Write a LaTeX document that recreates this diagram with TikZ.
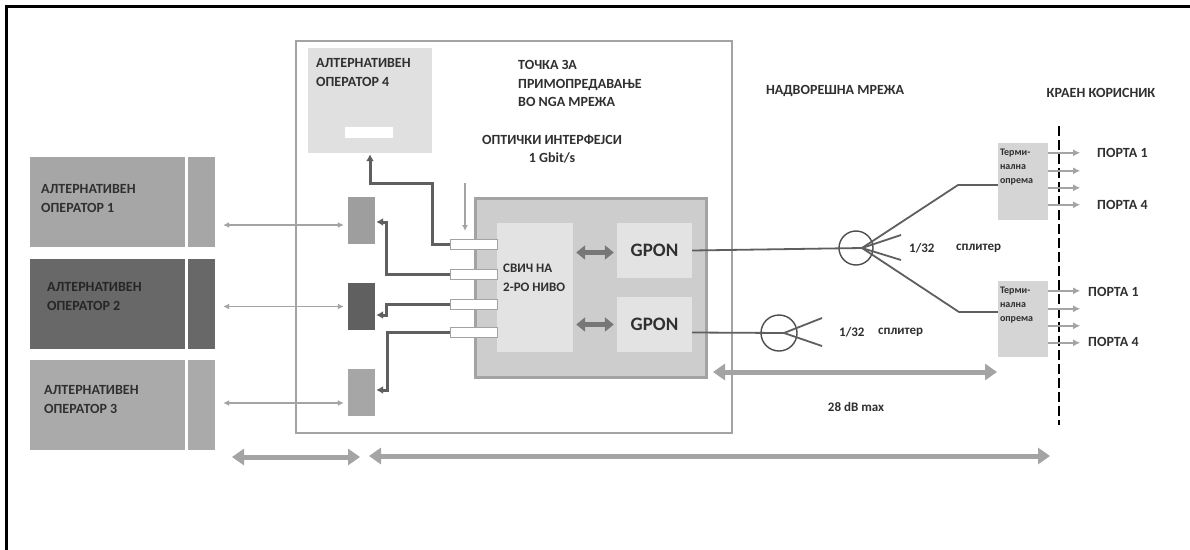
\documentclass[tikz,border=0pt]{standalone}
\usepackage{fontspec}
\setmainfont{Carlito}
\usetikzlibrary{arrows.meta,calc}

\definecolor{opgray}{HTML}{A6A6A6}
\definecolor{opdark}{HTML}{686868}
\definecolor{boxline}{HTML}{A3A3A3}
\definecolor{lightfill}{HTML}{E0E0E0}
\definecolor{swfill}{HTML}{CDCDCD}
\definecolor{linkdark}{HTML}{5F5F5F}
\definecolor{arrgray}{HTML}{A4A4A4}
\definecolor{txtgray}{HTML}{303030}

\tikzset{
  box/.style={rectangle, inner sep=0pt},
  opbox/.style={box, minimum width=155pt, minimum height=90pt},
  opstrip/.style={box, minimum width=27pt, minimum height=90pt},
  conbox/.style={box, minimum width=27pt, minimum height=47pt},
  portbox/.style={box, fill=white, draw=boxline, line width=1pt, minimum width=47pt, minimum height=10pt},
  termbox/.style={box, fill=lightfill!95!black, minimum width=50pt, minimum height=77pt},
  lbl/.style={inner sep=0pt, text=txtgray, align=left, font=\fontsize{14}{19}\selectfont\bfseries},
  small/.style={inner sep=0pt, text=txtgray, font=\fontsize{13}{15}\selectfont\bfseries},
  termlbl/.style={inner sep=0pt, text=txtgray, align=left, font=\fontsize{10}{14}\selectfont\bfseries},
  thinarr/.style={draw=arrgray, line width=1.6pt, {Latex[length=6pt,width=6pt]}-{Latex[length=6pt,width=6pt]}},
  downarr/.style={draw=arrgray, line width=1.5pt, -{Latex[length=6pt,width=6pt]}},
  link/.style={draw=linkdark, line width=3pt, -{Latex[length=7pt,width=8pt]}},
  gpdbl/.style={draw=linkdark!85, line width=4.5pt, {Triangle[length=9pt,width=14pt]}-{Triangle[length=9pt,width=14pt]}},
  spanarr/.style={draw=arrgray, line width=5pt, {Triangle[length=12pt,width=16pt]}-{Triangle[length=12pt,width=16pt]}},
  fiber/.style={draw=linkdark, line width=1.8pt},
  portarr/.style={draw=arrgray, line width=2pt, -{Latex[length=7pt,width=7pt]}},
}

\begin{document}
\begin{tikzpicture}[x=1pt,y=-1pt]
\useasboundingbox[fill=white] (0,0) rectangle (1190,549);

% frame
\draw[line width=3pt] (6,560) -- (6,6) -- (1200,6);

% alternative operators
\node[opbox, fill=opgray] (op1) at (107.5,202) {};
\node[opstrip, fill=opgray] (op1s) at (201.5,202) {};
\node[opbox, fill=opdark] (op2) at (107.5,304) {};
\node[opstrip, fill=opdark] (op2s) at (201.5,304) {};
\node[opbox, fill=opgray!95!white] (op3) at (107.5,405) {};
\node[opstrip, fill=opgray!95!white] (op3s) at (201.5,405) {};
\node[lbl, anchor=west] (op1txt) at (41,198.5) {АЛТЕРНАТИВЕН\\ОПЕРАТОР 1};
\node[lbl, anchor=west, text=black!85] (op2txt) at (47,296.5) {АЛТЕРНАТИВЕН\\ОПЕРАТОР 2};
\node[lbl, anchor=west] (op3txt) at (44,399.5) {АЛТЕРНАТИВЕН\\ОПЕРАТОР 3};

% NGA handover point
\node[box, draw=boxline, line width=2pt, minimum width=436pt, minimum height=392pt] (nga) at (514,237) {};
\node[box, fill=lightfill, minimum width=124pt, minimum height=105pt] (op4) at (370,100.5) {};
\node[box, fill=white, minimum width=48pt, minimum height=11pt] (op4slot) at (369,132.5) {};
\node[lbl, anchor=west] (op4txt) at (316,73) {АЛТЕРНАТИВЕН\\ОПЕРАТОР 4};
\node[lbl, anchor=west, font=\fontsize{14}{18.5}\selectfont\bfseries] (ngatxt) at (518,83.5) {ТОЧКА ЗА\\ПРИМОПРЕДАВАЊЕ\\ВО NGA МРЕЖА};
\node[lbl, align=center, font=\fontsize{14}{18}\selectfont\bfseries] (opttxt) at (552,149) {ОПТИЧКИ ИНТЕРФЕЈСИ\\1 Gbit/s};

\node[conbox, fill=opgray!95!black] (cb1) at (361.5,220) {};
\node[conbox, fill=opdark!92!black] (cb2) at (361.5,306.5) {};
\node[conbox, fill=opgray] (cb3) at (361.5,392.5) {};

% switch and GPON
\node[box, fill=swfill, draw=boxline, line width=3pt, minimum width=231pt, minimum height=179pt] (sw) at (590.5,287.5) {};
\node[box, fill=lightfill!90!white, minimum width=76pt, minimum height=129pt] (swcore) at (535,287.5) {};
\node[box, fill=lightfill!90!white, minimum width=75pt, minimum height=55pt] (gpon1) at (654.5,250.5) {};
\node[box, fill=lightfill!90!white, minimum width=75pt, minimum height=55pt] (gpon2) at (654.5,324.5) {};
\node[lbl, font=\fontsize{19}{20}\selectfont\bfseries] at (gpon1) {GPON};
\node[lbl, font=\fontsize{19}{20}\selectfont\bfseries] at (gpon2) {GPON};
\node[lbl, anchor=west, font=\fontsize{13}{19}\selectfont\bfseries] (swtxt) at (503,277.5) {СВИЧ НА\\2-РО НИВО};
\node[portbox] (p1) at (473.5,244.5) {};
\node[portbox] (p2) at (473.5,274.5) {};
\node[portbox] (p3) at (473.5,304) {};
\node[portbox] (p4) at (473.5,332) {};

\draw[gpdbl] ($(swcore.east |- gpon1.west)+(3,2)$) -- ($(gpon1.west)+(-3,2)$);
\draw[gpdbl] ($(swcore.east |- gpon2.west)+(3,0)$) -- ($(gpon2.west)+(-3,0)$);

% links from ports
\draw[link] (p1.west) -- ++(-17,0) |- ($(op4.south)+(0,30)$) -- ($(op4.south)+(0,1)$);
\draw[link] (p2.west) -- ++(-63,0) |- ($(cb1.east)+(1,2)$);
\draw[link] (p3.west) -- ++(-63,0) |- ($(cb2.east)+(1,8.5)$);
\draw[link] (p4.west) -- ++(-62,0) |- ($(cb3.east)+(1,-2.5)$);
\coordinate (optin) at (465,183);
\draw[downarr] (optin) -- ($(p1.north)+(-8.5,-8)$);

% operator links
\draw[thinarr] ($(op1s.east |- cb1.west)+(8,5)$) -- ($(cb1.west)+(-4,5)$);
\draw[thinarr] ($(op2s.east |- cb2.west)+(8,0)$) -- ($(cb2.west)+(-4,0)$);
\draw[thinarr] ($(op3s.east |- cb3.west)+(8,10.5)$) -- ($(cb3.west)+(-4,10.5)$);

% outside plant
\node[lbl] (outtxt) at (835,91) {НАДВОРЕШНА МРЕЖА};
\node[lbl] (usrtxt) at (1101,93) {КРАЕН КОРИСНИК};

\node[circle, draw=linkdark!80!black, line width=1.4pt, minimum size=34pt, inner sep=0pt] (spl1) at (856,248) {};
\node[circle, draw=linkdark!80!black, line width=1.4pt, minimum size=36pt, inner sep=0pt] (spl2) at (779,333) {};
\coordinate (f1) at ($(spl1.center)+(6,0)$);
\coordinate (f2) at ($(spl2.center)+(5,0)$);

\node[termbox] (term1) at (1023,181.5) {};
\node[termbox, minimum height=76pt] (term2) at (1023,319) {};
\node[termlbl, anchor=north west] at ($(term1.north west)+(2,6)$) {Терми-\\нална\\опрема};
\node[termlbl, anchor=north west] at ($(term2.north west)+(2,6)$) {Терми-\\нална\\опрема};

\draw[fiber] (gpon1.east) -- (f1);
\draw[fiber] (f1) -- ++(96,-63) -- ($(term1.west)+(0,3.5)$);
\draw[fiber] (f1) -- ++(39,-13);
\draw[fiber] (f1) -- ++(39,12);
\draw[fiber] (f1) -- ++(97,64) -- ($(term2.west)+(0,-7)$);
\draw[fiber] ($(gpon2.east)+(0,8)$) -- (f2);
\draw[fiber] (f2) -- ++(38,-15);
\draw[fiber] (f2) -- ++(38,13);

\node[small, anchor=west] (r1) at (909,248) {1/32};
\node[small, anchor=west] (s1) at (956,248) {сплитер};
\node[small, anchor=west] (r2) at (839,332) {1/32};
\node[small, anchor=west] (s2) at (878,332) {сплитер};

% end user boundary
\coordinate (eu1) at (1059,126);
\coordinate (eu2) at (1059,425);
\draw[line width=2.5pt, dash pattern=on 10pt off 4pt] (eu1) -- (eu2);

\foreach \t in {term1,term2}
  \foreach \dy in {10,28,45,62}
    \draw[portarr] ($(\t.north east)+(0,\dy)$) -- ++(32,0);

\node[lbl, anchor=west] (t1p1) at (1097,153) {ПОРТА 1};
\node[lbl, anchor=west] (t1p4) at (1097,205) {ПОРТА 4};
\node[lbl, anchor=west] (t2p1) at (1088,292) {ПОРТА 1};
\node[lbl, anchor=west] (t2p4) at (1088,342) {ПОРТА 4};

% spans
\coordinate (db1) at (713,372);
\coordinate (db2) at (997,372);
\draw[spanarr] (db1) -- (db2);
\node[small] (dbtxt) at (856,407) {28 dB max};

\coordinate (bl1) at (232,457);
\coordinate (bl2) at (360,457);
\coordinate (br1) at (369,456);
\coordinate (br2) at (1050,456);
\draw[spanarr] (bl1) -- (bl2);
\draw[spanarr] (br1) -- (br2);
\end{tikzpicture}
\end{document}
